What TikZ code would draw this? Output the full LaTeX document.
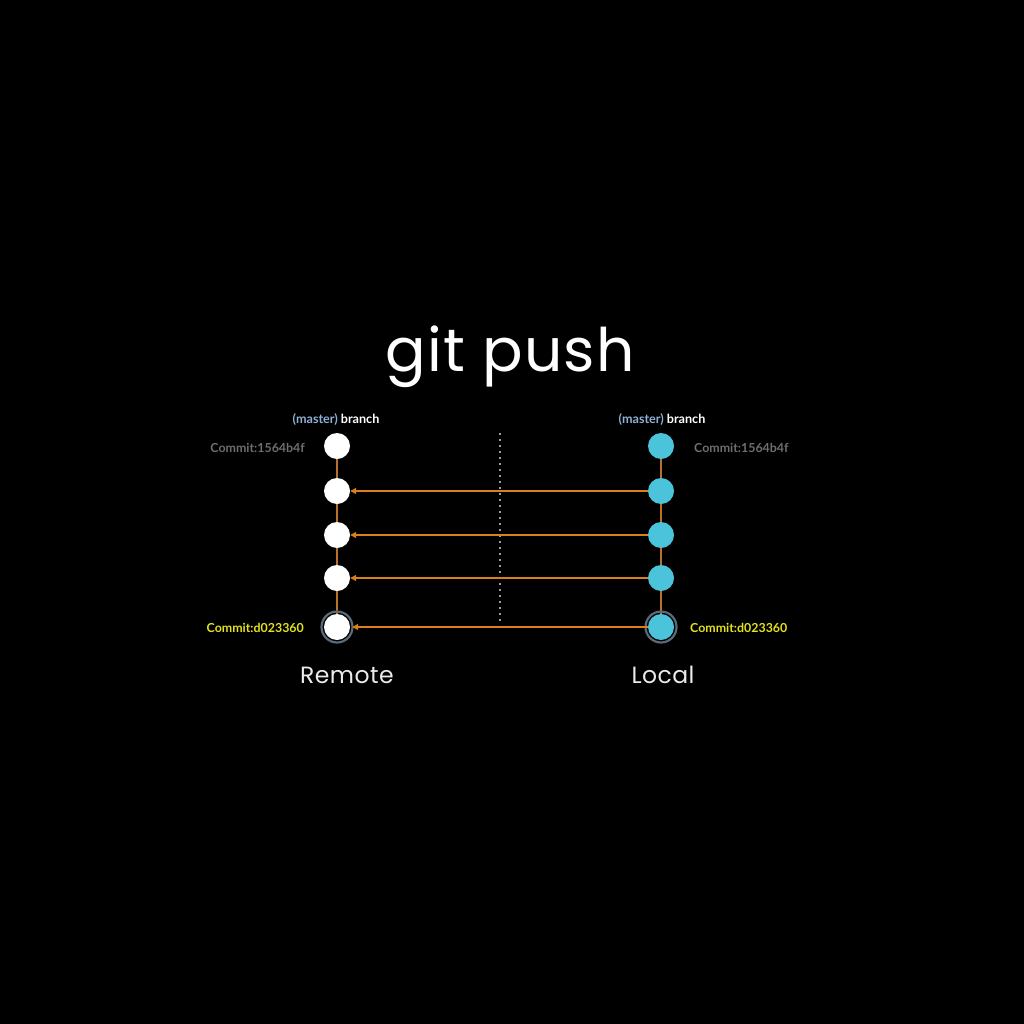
\documentclass[tikz,border=0pt]{standalone}
\usepackage{fontspec}
\setmainfont{Lato}
\newfontfamily\titlefont[LetterSpace=2]{Poppins}
\usetikzlibrary{arrows.meta}
\definecolor{orangeln}{HTML}{D9801A}
\definecolor{brownln}{HTML}{B8702A}
\definecolor{cyanc}{HTML}{4BC3DA}
\definecolor{masterc}{HTML}{8FB0D4}
\definecolor{grayc}{HTML}{6E6E6E}
\definecolor{dotc}{HTML}{9A9A9A}
\definecolor{yellowc}{HTML}{E2E21E}
\definecolor{ringc}{HTML}{5A6A78}
\begin{document}
\begin{tikzpicture}[x=1pt,y=-1pt,
  remotec/.style={circle,fill=white,minimum size=26pt,inner sep=0pt},
  localc/.style={circle,fill=cyanc,minimum size=26pt,inner sep=0pt},
  headring/.style={draw=ringc,line width=2.2pt},
  push/.style={draw=orangeln,line width=1.4pt,-{Triangle[length=6pt,width=6pt]}},
  chain/.style={draw=brownln,line width=1.8pt},
  brlabel/.style={font=\fontsize{12.6}{14}\selectfont\bfseries,inner sep=0pt},
  cmlabel/.style={font=\fontsize{12.4}{14}\selectfont\bfseries,inner sep=0pt},
  sidelabel/.style={font=\titlefont\fontsize{23.5}{26}\selectfont,text=white!92!black}]
\fill[black] (0,0) rectangle (1024,1024);
\useasboundingbox (0,0) rectangle (1024,1024);
% title
\node[font=\titlefont\fontsize{60}{64}\selectfont,text=white] (title) at (510,357) {git push};
% divider
\coordinate (dtop) at (500,433);
\coordinate (dbot) at (500,623);
\draw[dotc,line width=1.5pt,dash pattern=on 1.5pt off 4.5pt] (dtop) -- (dbot);
% remote commits
\node[remotec] (r1) at (337,446) {};
\node[remotec] (r2) at (337,491) {};
\node[remotec] (r3) at (337,535) {};
\node[remotec] (r4) at (337,578) {};
\node[remotec] (r5) at (337,627) {};
% local commits
\node[localc] (l1) at (661,446) {};
\node[localc] (l2) at (661,491) {};
\node[localc] (l3) at (661,535) {};
\node[localc] (l4) at (661,578) {};
\node[localc] (l5) at (661,627) {};
% chains
\draw[chain] (r1) -- (r2);
\draw[chain] (r2) -- (r3);
\draw[chain] (r3) -- (r4);
\draw[chain] (r4) -- (r5);
\draw[chain] (l1) -- (l2);
\draw[chain] (l2) -- (l3);
\draw[chain] (l3) -- (l4);
\draw[chain] (l4) -- (l5);
% head rings
\draw[headring] (r5) circle (15.5pt);
\draw[headring] (l5) circle (15.5pt);
% push arrows
\draw[push] (l2) -- (r2);
\draw[push] (l3) -- (r3);
\draw[push] (l4) -- (r4);
\draw[push] (l5.west) -- ([xshift=2pt]r5.east);
% branch labels
\node[brlabel] (rb) at (336,420) {\textcolor{masterc}{(master)} \textcolor{white}{branch}};
\node[brlabel] (lb) at (662,420) {\textcolor{masterc}{(master)} \textcolor{white}{branch}};
% commit labels
\node[cmlabel,text=grayc,anchor=east] (rc1) at (305,448) {Commit:1564b4f};
\node[cmlabel,text=grayc,anchor=west] (lc1) at (694,448) {Commit:1564b4f};
\node[cmlabel,text=yellowc,anchor=east] (rc5) at (304,628) {Commit:d023360};
\node[cmlabel,text=yellowc,anchor=west] (lc5) at (690,628) {Commit:d023360};
% side labels
\node[sidelabel] (remote) at (347,675) {Remote};
\node[sidelabel] (local) at (663,675) {Local};
\end{tikzpicture}
\end{document}
